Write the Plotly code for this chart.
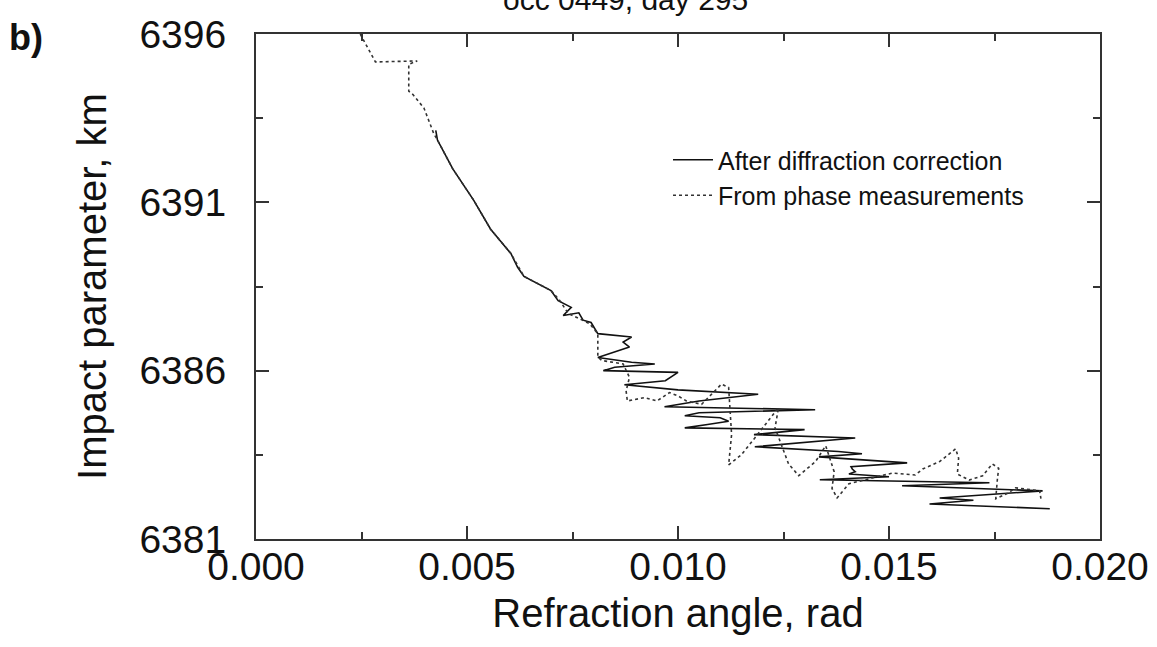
import plotly.graph_objects as go

# After diffraction correction (solid)
solid_x = [0.00426, 0.0043, 0.00466, 0.00516, 0.00556, 0.00604, 0.0062, 0.00635, 0.00699,
           0.00716, 0.00747, 0.00728, 0.00765, 0.00775, 0.00794, 0.0081, 0.0089, 0.0087,
           0.00885, 0.0085, 0.0081, 0.0089, 0.00945, 0.0085, 0.00823, 0.0100, 0.0097,
           0.00873, 0.0095, 0.0100, 0.0119, 0.0105, 0.00968, 0.01325, 0.0105, 0.01016,
           0.0110, 0.0112, 0.0107, 0.01016, 0.0130, 0.0118, 0.0142, 0.01182, 0.0138,
           0.01436, 0.01334, 0.0150, 0.01543, 0.0141, 0.01413, 0.0142, 0.01405, 0.0150,
           0.01336, 0.01738, 0.01531, 0.01864, 0.0162, 0.0170, 0.01596, 0.01881]
solid_y = [6393.14, 6392.85, 6392.0, 6391.06, 6390.2, 6389.48, 6389.07, 6388.8, 6388.38,
           6388.08, 6387.88, 6387.64, 6387.72, 6387.5, 6387.43, 6387.1, 6387.0, 6386.85,
           6386.7, 6386.55, 6386.39, 6386.25, 6386.2, 6386.1, 6386.0, 6385.95, 6385.7,
           6385.58, 6385.5, 6385.43, 6385.3, 6385.1, 6384.93, 6384.84, 6384.75, 6384.66,
           6384.6, 6384.5, 6384.4, 6384.3, 6384.25, 6384.1, 6384.0, 6383.74, 6383.6,
           6383.53, 6383.44, 6383.3, 6383.26, 6383.15, 6383.08, 6383.0, 6382.93, 6382.85,
           6382.76, 6382.67, 6382.58, 6382.43, 6382.22, 6382.15, 6382.04, 6381.9]

# From phase measurements (dotted)
phase_x = [0.00247, 0.00283, 0.00382, 0.00362, 0.00362, 0.00372, 0.00398, 0.00421,
           0.0043, 0.00466, 0.00516, 0.00556, 0.00604, 0.00635, 0.00699, 0.0072, 0.0074,
           0.0079, 0.0081, 0.0081, 0.0082, 0.0087, 0.00885, 0.00877, 0.0088, 0.0092,
           0.0095, 0.0098, 0.0100, 0.0102, 0.01056, 0.01103, 0.0112, 0.01127, 0.0112,
           0.0115, 0.01182, 0.01238, 0.0123, 0.01262, 0.01286, 0.01326, 0.0135, 0.0137,
           0.01365, 0.01377, 0.01405, 0.01508, 0.01562, 0.0158, 0.0162, 0.01658, 0.01665,
           0.01662, 0.0169, 0.01722, 0.01745, 0.0176, 0.01757, 0.01753, 0.0178, 0.018,
           0.01857, 0.0186]
phase_y = [6396.0, 6395.17, 6395.2, 6395.1, 6394.3, 6394.2, 6393.8, 6393.05,
           6392.85, 6392.0, 6391.06, 6390.2, 6389.48, 6388.8, 6388.38, 6388.08, 6387.7,
           6387.4, 6387.1, 6386.4, 6386.3, 6386.2, 6385.8, 6385.4, 6385.1, 6385.2,
           6385.1, 6385.35, 6385.25, 6385.1, 6385.0, 6385.6, 6385.5, 6384.1, 6383.2,
           6383.5, 6384.0, 6384.9, 6384.3, 6383.23, 6382.88, 6383.3, 6383.77, 6383.0,
           6382.5, 6382.22, 6382.64, 6382.96, 6382.9, 6383.08, 6383.3, 6383.68, 6383.4,
           6382.93, 6382.75, 6382.88, 6383.23, 6383.1, 6382.8, 6382.2, 6382.35, 6382.52,
           6382.43, 6382.2]

x_ticks = [0.000, 0.005, 0.010, 0.015, 0.020]
x_tick_labels = ["0.000", "0.005", "0.010", "0.015", "0.020"]
y_ticks = [6381, 6386, 6391, 6396]
y_tick_labels = ["6381", "6386", "6391", "6396"]

FONT = "Liberation Sans, Arial, sans-serif"
W, H = 1157, 647
L, R, T, B = 256, 57, 34, 108

fig = go.Figure()
fig.add_trace(go.Scatter(x=solid_x, y=solid_y, mode="lines", name="After diffraction correction",
                         line=dict(color="#111111", width=1.6)))
fig.add_trace(go.Scatter(x=phase_x, y=phase_y, mode="lines", name="From phase measurements",
                         line=dict(color="#333333", width=1.6, dash="dot")))

axis_common = dict(showgrid=False, zeroline=False, showline=True, linecolor="#333333",
                   linewidth=2, mirror="ticks", ticks="inside", tickcolor="#333333",
                   tickwidth=1.5, automargin=False,
                   tickfont=dict(family=FONT, size=39, color="#111111"))

fig.update_xaxes(range=[0, 0.02], tickvals=x_ticks, ticktext=x_tick_labels, ticklen=13,
                 minor=dict(dtick=0.0025, ticks="inside", ticklen=7, tickcolor="#333333",
                            tickwidth=1.5, showgrid=False),
                 ticklabelstandoff=-8,
                 title=dict(text="Refraction angle, rad", font=dict(family=FONT, size=40, color="#111111"),
                            standoff=12),
                 **axis_common)
fig.update_yaxes(range=[6381, 6396], tickvals=y_ticks, ticktext=y_tick_labels, ticklen=13,
                 minor=dict(dtick=2.5, tick0=6381, ticks="inside", ticklen=7, tickcolor="#333333",
                            tickwidth=1.5, showgrid=False),
                 ticklabelstandoff=20,
                 title=dict(text="Impact parameter, km", font=dict(family=FONT, size=40, color="#111111"),
                            standoff=20),
                 **axis_common)

pw = W - L - R
ph = H - T - B

fig.add_annotation(text="occ 0449, day 295", xref="paper", yref="paper",
                   x=(625 - L) / pw, y=1 + (T - 0) / ph, xanchor="center", yanchor="middle",
                   showarrow=False, font=dict(family=FONT, size=30, color="#111111"))
fig.add_annotation(text="<b>b)</b>", xref="paper", yref="paper",
                   x=(7 - L) / pw, y=1 + (T - 37) / ph, xanchor="left", yanchor="middle",
                   showarrow=False, font=dict(family=FONT, size=36, color="#111111"))

fig.update_layout(
    width=W, height=H,
    margin=dict(l=L, r=R, t=T, b=B, autoexpand=False),
    paper_bgcolor="white", plot_bgcolor="white",
    showlegend=True,
    legend=dict(x=(668 - L) / pw, y=(H - B - 137) / ph, xanchor="left", yanchor="top",
                bgcolor="rgba(0,0,0,0)", borderwidth=0,
                font=dict(family=FONT, size=25, color="#111111"), itemwidth=40,
                tracegroupgap=0),
)

fig.write_html("out.html")
